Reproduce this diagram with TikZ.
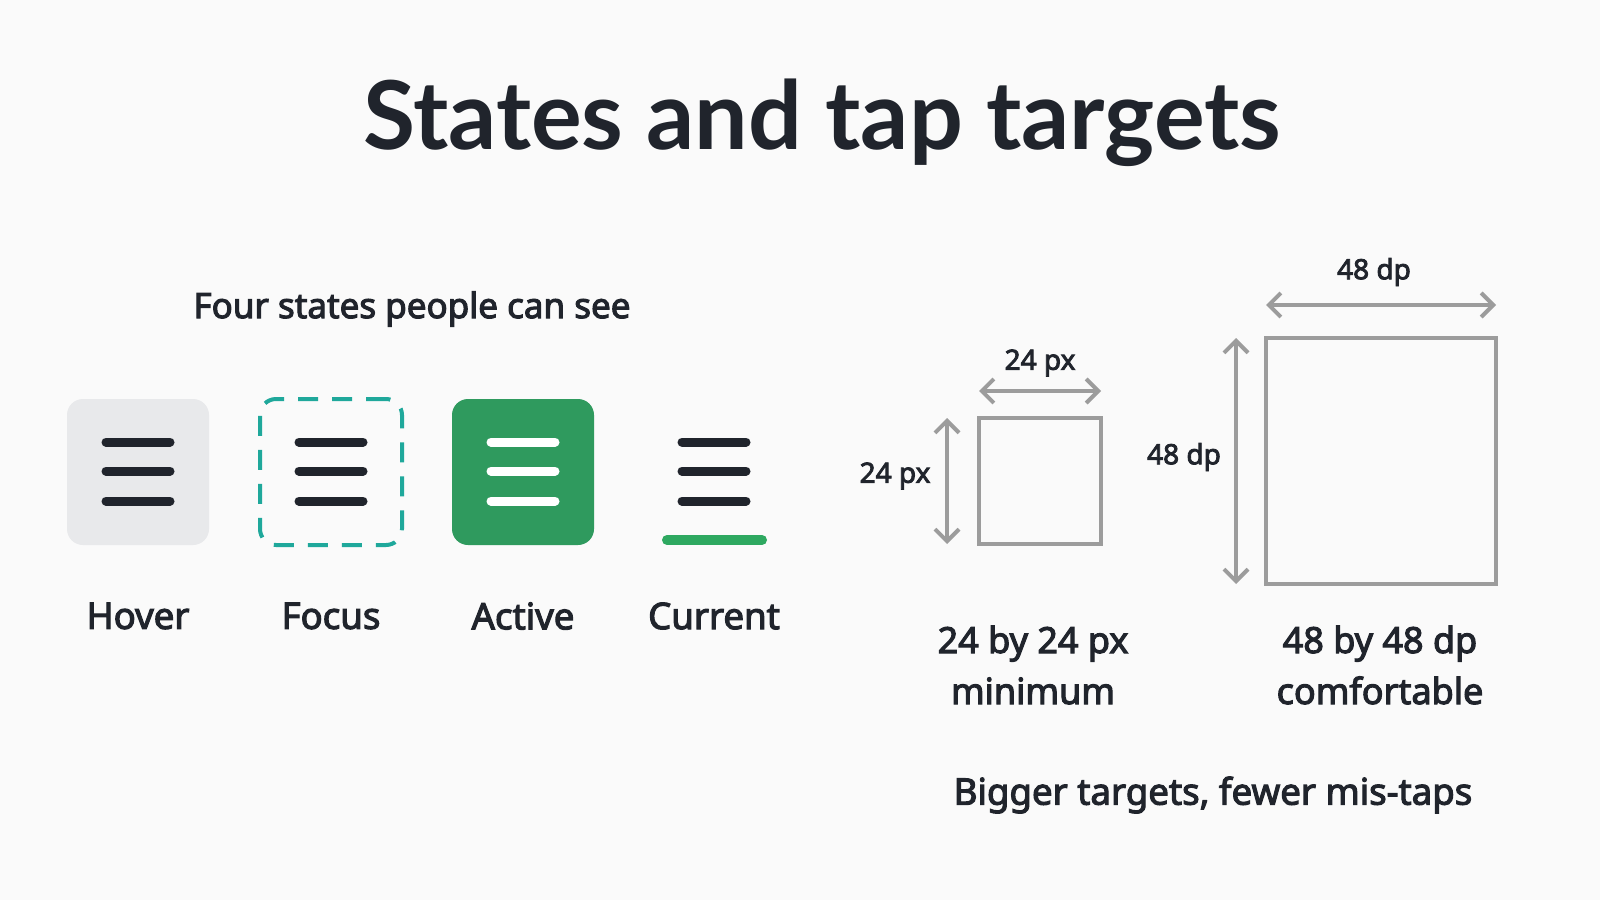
\documentclass[tikz,border=0pt]{standalone}
\usepackage{fontspec}
\setmainfont{Noto Sans}
\newfontfamily\titlefont{Lato}
\newfontfamily\medfont{Noto Sans}[FakeBold=3]
\usetikzlibrary{arrows.meta}
\definecolor{bg}{HTML}{FAFAFA}
\definecolor{ink}{HTML}{20242C}
\definecolor{hoverbg}{HTML}{E8E9EB}
\definecolor{teal}{HTML}{1FA89B}
\definecolor{activegreen}{HTML}{2F9A5E}
\definecolor{bargreen}{HTML}{2EA860}
\definecolor{dimgray}{HTML}{9C9C9C}
\tikzset{
  txt/.style={text=ink, inner sep=0pt, font=\medfont},
  statebox/.style={minimum width=71pt, minimum height=73pt, rounded corners=8pt, inner sep=0pt},
  burger/.style={line width=4.5pt, line cap=round, draw=ink},
  target/.style={draw=dimgray, line width=2pt, inner sep=0pt},
  dim/.style={draw=dimgray, line width=2pt, {Straight Barb[length=6pt,width=12pt,line width=2pt]}-{Straight Barb[length=6pt,width=12pt,line width=2pt]}},
}
\begin{document}
\begin{tikzpicture}[x=0.5pt,y=-0.5pt]
\fill[bg] (0,0) rectangle (1600,900);
\useasboundingbox (0,0) rectangle (1600,900);

% title
\node[txt, font=\titlefont\bfseries\fontsize{47.5pt}{57pt}\selectfont] (title) at (822,123) {States and tap targets};
\node[txt, font=\medfont\fontsize{17.5pt}{21pt}\selectfont] (sub) at (412,309) {Four states people can see};

% state boxes
\node[statebox, fill=hoverbg] (hover) at (138,472) {};
\node[statebox, draw=teal, line width=2pt, dash pattern=on 10pt off 7pt] (focus) at (331,472) {};
\node[statebox, fill=activegreen] (active) at (523,472) {};
\coordinate (current) at (714,472);

\foreach \yy in {442,471,501}{
  \draw[burger] (106,\yy) -- (170,\yy);
  \draw[burger] (299,\yy) -- (363,\yy);
  \draw[burger, draw=white] (491,\yy) -- (555,\yy);
  \draw[burger] (682,\yy) -- (746,\yy);
}
\draw[line width=5pt, line cap=round, draw=bargreen] (667,540) -- (762,540);

\foreach \n/\x/\t in {lhover/138/Hover, lfocus/331/Focus, lactive/523/Active, lcurrent/714/Current}{
  \node[txt, font=\medfont\fontsize{18.3pt}{22pt}\selectfont] (\n) at (\x,616) {\t};
}

% tap targets
\node[target, minimum width=61pt, minimum height=63pt] (small) at (1040,481) {};
\node[target, minimum width=115pt, minimum height=123pt] (big) at (1381,461) {};

\coordinate (sh1) at (979,391); \coordinate (sh2) at (1101,391);
\coordinate (sv1) at (947,418); \coordinate (sv2) at (947,544);
\coordinate (bh1) at (1266,305); \coordinate (bh2) at (1496,305);
\coordinate (bv1) at (1236,338); \coordinate (bv2) at (1236,584);
\draw[dim] (sh1) -- (sh2);
\draw[dim] (sv1) -- (sv2);
\draw[dim] (bh1) -- (bh2);
\draw[dim] (bv1) -- (bv2);

\node[txt, font=\medfont\fontsize{14pt}{17pt}\selectfont] (st) at (1040,363) {24 px};
\node[txt, font=\medfont\fontsize{14pt}{17pt}\selectfont] (sl) at (895,476) {24 px};
\node[txt, font=\medfont\fontsize{14pt}{17pt}\selectfont] (bt) at (1374,272) {48 dp};
\node[txt, font=\medfont\fontsize{14pt}{17pt}\selectfont] (bl) at (1184,457) {48 dp};

\node[txt, align=center, font=\medfont\fontsize{18pt}{25.5pt}\selectfont] (csmall) at (1033,665) {24 by 24 px\\minimum};
\node[txt, align=center, font=\medfont\fontsize{18pt}{25.5pt}\selectfont] (cbig) at (1380,665) {48 by 48 dp\\comfortable};

\node[txt, font=\medfont\fontsize{18.3pt}{23pt}\selectfont] (bigger) at (1213,795) {Bigger targets, fewer mis-taps};
\end{tikzpicture}
\end{document}
